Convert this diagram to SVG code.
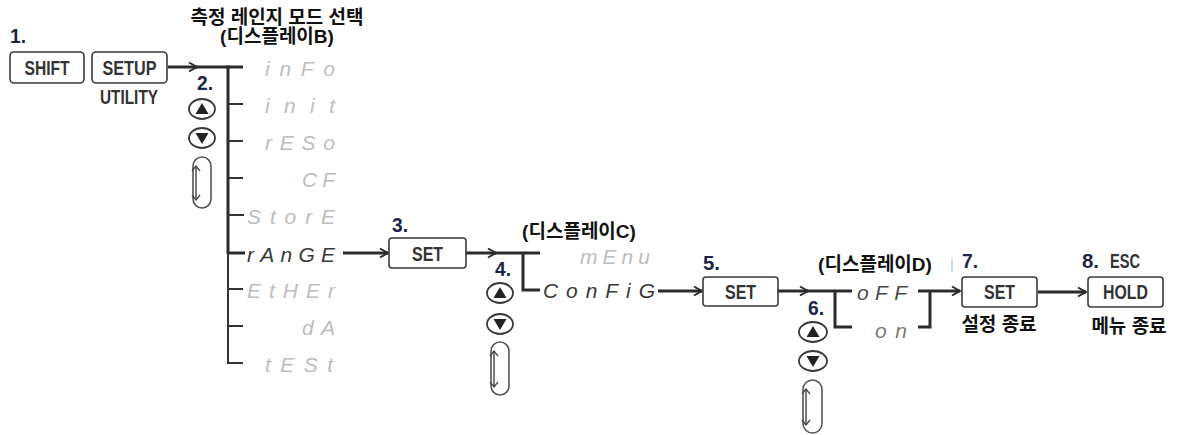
<svg xmlns="http://www.w3.org/2000/svg" width="1177" height="435" viewBox="0 0 1177 435">
<defs>
<style>
.btn{fill:#fff;stroke:#3a3a3a;stroke-width:1.6}
.bt{font-family:"Liberation Sans",Arial,sans-serif;font-weight:bold;font-size:20px;fill:#333;text-anchor:middle}
.num{font-family:"Liberation Sans",Arial,sans-serif;font-weight:bold;font-size:20px;fill:#1d2447}
.kr{font-family:"Liberation Sans","Noto Sans CJK KR",sans-serif;font-weight:bold;font-size:19px;fill:#111;text-anchor:middle}
.seg{font-family:"Liberation Sans",Arial,sans-serif;font-style:italic;font-size:21px;fill:#bdbdbd}
.segd{fill:#3a3a3a}
.ln{stroke:#2b2b2b;stroke-width:3;fill:none}
.tk{stroke:#333;stroke-width:2;fill:none}
.key{fill:#fff;stroke:#3a3a3a;stroke-width:1.8}
.tri{fill:#222}
.scr{fill:none;stroke:#555;stroke-width:1.6}
.sca{stroke:#444;stroke-width:1.4;fill:none}
</style>
<marker id="ah" markerWidth="12" markerHeight="12" refX="10" refY="6" orient="auto" markerUnits="userSpaceOnUse">
<path d="M2,1.5 L10,6 L2,10.5" fill="none" stroke="#2b2b2b" stroke-width="2"/>
</marker>
<marker id="sh" markerWidth="8" markerHeight="10" refX="6" refY="5" orient="auto-start-reverse" markerUnits="userSpaceOnUse">
<path d="M1,1 L6,5 L1,9" fill="none" stroke="#444" stroke-width="1.3"/>
</marker>
</defs>

<g id="title">
<text class="kr" x="277" y="24" font-size="19.5">측정 레인지 모드 선택</text>
<text class="kr" x="277" y="43">(디스플레이B)</text>
</g>

<g id="connectors">
<line class="ln" x1="168" y1="67" x2="197" y2="67" marker-end="url(#ah)"/>
<line class="ln" x1="196" y1="67" x2="243" y2="67"/>
<line class="ln" x1="228" y1="65.5" x2="228" y2="254"/>
<path class="tk" d="M228,253 L228,363 L243,363"/>
<line class="tk" x1="228" y1="104" x2="243" y2="104"/>
<line class="tk" x1="228" y1="141" x2="243" y2="141"/>
<line class="tk" x1="228" y1="178" x2="243" y2="178"/>
<line class="tk" x1="228" y1="215" x2="244" y2="215"/>
<line class="ln" x1="228" y1="253" x2="245" y2="253"/>
<line class="tk" x1="228" y1="289" x2="243" y2="289"/>
<line class="tk" x1="228" y1="326" x2="243" y2="326"/>
<line class="ln" x1="343" y1="253" x2="388" y2="253" marker-end="url(#ah)"/>
<line class="ln" x1="466" y1="253" x2="496" y2="253" marker-end="url(#ah)"/>
<line class="ln" x1="495" y1="253" x2="540" y2="253"/>
<path class="ln" d="M523,253 L523,290 L540,290"/>
<line class="ln" x1="658" y1="291" x2="702" y2="291" marker-end="url(#ah)"/>
<line class="ln" x1="778" y1="291" x2="808" y2="291" marker-end="url(#ah)"/>
<line class="ln" x1="807" y1="291" x2="852" y2="291"/>
<path class="ln" d="M835,291 L835,327 L852,327"/>
<path class="ln" d="M918,327 L930,327 L930,291"/>
<line class="ln" x1="918" y1="291" x2="960" y2="291" marker-end="url(#ah)"/>
<line class="ln" x1="1038" y1="292" x2="1086" y2="292" marker-end="url(#ah)"/>
</g>

<g id="step1">
<text class="num" x="10" y="43" textLength="16" lengthAdjust="spacingAndGlyphs">1.</text>
<rect class="btn" x="10" y="52" width="74" height="31" rx="4"/>
<text class="bt" x="47" y="75" textLength="45" lengthAdjust="spacingAndGlyphs">SHIFT</text>
<rect class="btn" x="92" y="52" width="75" height="31" rx="4"/>
<text class="bt" x="129.5" y="75" textLength="54" lengthAdjust="spacingAndGlyphs">SETUP</text>
<text class="bt" x="129" y="104" textLength="58" lengthAdjust="spacingAndGlyphs">UTILITY</text>
</g>

<g id="step2">
<text class="num" x="197" y="90" textLength="16" lengthAdjust="spacingAndGlyphs">2.</text>
<ellipse class="key" cx="202" cy="109" rx="13" ry="10"/>
<path class="tri" d="M195.5,114 L208.5,114 L202,103 Z"/>
<ellipse class="key" cx="202" cy="138" rx="13" ry="10"/>
<path class="tri" d="M195.5,133 L208.5,133 L202,144 Z"/>
<rect class="scr" x="193" y="157" width="18" height="51" rx="9"/>
<line class="sca" x1="196" y1="166" x2="196" y2="200" marker-start="url(#sh)" marker-end="url(#sh)"/>
</g>

<g id="menuB">
<text class="seg" x="265" y="76" textLength="70" lengthAdjust="spacing">inFo</text>
<text class="seg" x="265" y="113" textLength="70" lengthAdjust="spacing">init</text>
<text class="seg" x="265" y="150" textLength="70" lengthAdjust="spacing">rESo</text>
<text class="seg" x="302" y="187" textLength="33" lengthAdjust="spacing">CF</text>
<text class="seg" x="247" y="224" textLength="88" lengthAdjust="spacing">StorE</text>
<text class="seg segd" x="247" y="262" textLength="88" lengthAdjust="spacing">rAnGE</text>
<text class="seg" x="247" y="298" textLength="88" lengthAdjust="spacing">EtHEr</text>
<text class="seg" x="302" y="335" textLength="33" lengthAdjust="spacing">dA</text>
<text class="seg" x="265" y="372" textLength="68" lengthAdjust="spacing">tESt</text>
</g>

<g id="step3">
<text class="num" x="392" y="232" textLength="16" lengthAdjust="spacingAndGlyphs">3.</text>
<rect class="btn" x="389" y="238" width="77" height="30" rx="3"/>
<text class="bt" x="427.5" y="260.5" textLength="31" lengthAdjust="spacingAndGlyphs">SET</text>
</g>

<g id="menuC">
<text class="kr" x="579" y="238">(디스플레이C)</text>
<text class="seg" x="580" y="264" textLength="70" lengthAdjust="spacing">mEnu</text>
<text class="seg segd" x="543" y="298" textLength="112" lengthAdjust="spacing">ConFiG</text>
</g>

<g id="step4">
<text class="num" x="495" y="276" textLength="16" lengthAdjust="spacingAndGlyphs">4.</text>
<ellipse class="key" cx="500" cy="293" rx="13" ry="10"/>
<path class="tri" d="M493.5,298 L506.5,298 L500,287 Z"/>
<ellipse class="key" cx="500" cy="324" rx="13" ry="10"/>
<path class="tri" d="M493.5,319 L506.5,319 L500,330 Z"/>
<rect class="scr" x="491" y="342" width="18" height="53" rx="9"/>
<line class="sca" x1="494" y1="351" x2="494" y2="387" marker-start="url(#sh)" marker-end="url(#sh)"/>
</g>

<g id="step5">
<text class="num" x="703" y="270" textLength="17" lengthAdjust="spacingAndGlyphs">5.</text>
<rect class="btn" x="703" y="277" width="75" height="29" rx="3"/>
<text class="bt" x="740.5" y="298.5" textLength="31" lengthAdjust="spacingAndGlyphs">SET</text>
</g>

<g id="menuD">
<text class="kr" x="875" y="271">(디스플레이D)</text>
<line x1="952" y1="259" x2="952" y2="272" stroke="#b9cfe6" stroke-width="1.5"/>
<text class="seg" x="857" y="300" textLength="50" lengthAdjust="spacing" style="fill:#4a4a4a">oFF</text>
<text class="seg" x="875" y="338" textLength="32" lengthAdjust="spacing" style="fill:#7a7a7a">on</text>
</g>

<g id="step6">
<text class="num" x="808" y="315" textLength="16" lengthAdjust="spacingAndGlyphs">6.</text>
<ellipse class="key" cx="813" cy="332" rx="14" ry="10"/>
<path class="tri" d="M806.5,337 L819.5,337 L813,326 Z"/>
<ellipse class="key" cx="813" cy="361" rx="14" ry="10"/>
<path class="tri" d="M806.5,356 L819.5,356 L813,367 Z"/>
<rect class="scr" x="803" y="380" width="19" height="53" rx="9.5"/>
<line class="sca" x1="806" y1="389" x2="806" y2="425" marker-start="url(#sh)" marker-end="url(#sh)"/>
</g>

<g id="step7">
<text class="num" x="962" y="268" textLength="16" lengthAdjust="spacingAndGlyphs">7.</text>
<rect class="btn" x="962" y="277" width="75" height="30" rx="3"/>
<text class="bt" x="999.5" y="299" textLength="31" lengthAdjust="spacingAndGlyphs">SET</text>
<text class="kr" x="999" y="331" font-size="18">설정 종료</text>
</g>

<g id="step8">
<text class="num" x="1082" y="268" textLength="17" lengthAdjust="spacingAndGlyphs">8.</text>
<text class="bt" x="1125" y="268" textLength="30" lengthAdjust="spacingAndGlyphs">ESC</text>
<rect class="btn" x="1088" y="277" width="75" height="30" rx="3"/>
<text class="bt" x="1125.5" y="299" textLength="45" lengthAdjust="spacingAndGlyphs">HOLD</text>
<text class="kr" x="1129" y="333" font-size="18">메뉴 종료</text>
</g>
</svg>
